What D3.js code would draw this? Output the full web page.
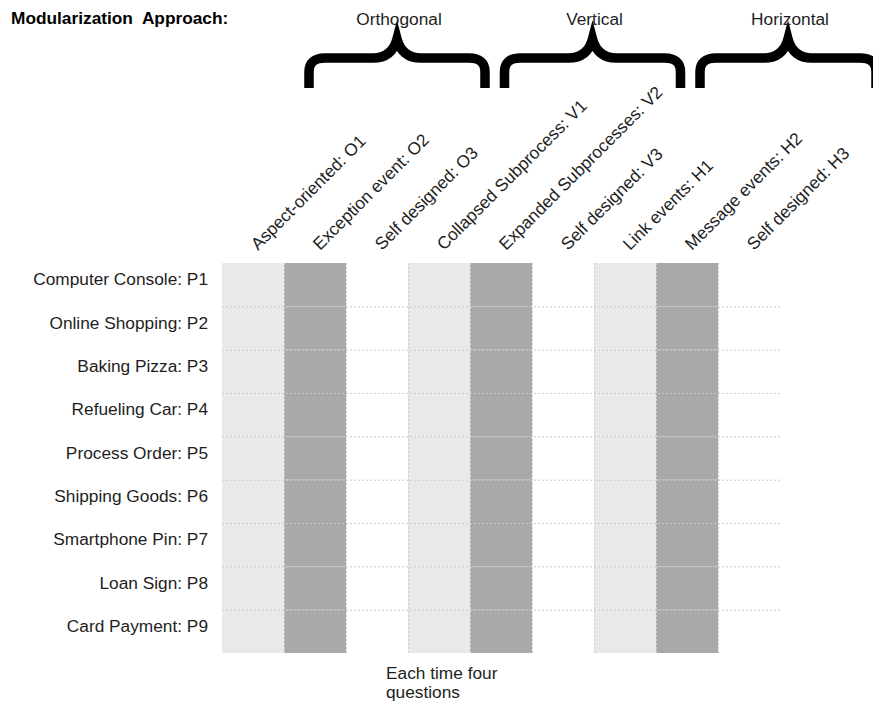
<!DOCTYPE html>
<html lang="en">

<head>
   <meta charset="UTF-8">
   <title>Modularization Approach</title>
   <script src="https://cdnjs.cloudflare.com/ajax/libs/d3/7.8.4/d3.min.js"></script>
   <style>
      body { margin: 0; background: #fff; }
      svg { display: block; font-family: "Liberation Sans", Arial, sans-serif; }
   </style>
</head>

<body>
   <script>
      // rows
      const processes = ["Computer Console: P1", "Online Shopping: P2", "Baking Pizza: P3", "Refueling Car: P4",
         "Process Order: P5", "Shipping Goods: P6", "Smartphone Pin: P7", "Loan Sign: P8", "Card Payment: P9"];
      // columns
      const approaches = ["Aspect-oriented: O1", "Exception event: O2", "Self designed: O3",
         "Collapsed Subprocess: V1", "Expanded Subprocesses: V2", "Self designed: V3",
         "Link events: H1", "Message events: H2", "Self designed: H3"];
      const groups = ["Orthogonal", "Vertical", "Horizontal"];
      // shade of each column: 1 = light, 2 = dark, 0 = empty
      const shade = [1, 2, 0, 1, 2, 0, 1, 2, 0];
      const noteLines = ["Each time four", "questions"];

      const w = 873;
      const h = 704;
      const fs = 17.3;
      const colors = { 0: "none", 1: "#e9e9e9", 2: "#a9a9a9" };
      const ink = "#1e1e1e";

      const svg = d3.select("body")
         .append("svg")
         .attr("width", w)
         .attr("height", h);

      const xScale = d3.scaleBand().domain(approaches).range([222, 780]);
      const yScale = d3.scaleBand().domain(processes).range([263, 653]);
      const braceScale = d3.scalePoint().domain(groups).range([397, 788]);

      // cells
      const cells = [];
      processes.forEach(p => approaches.forEach((a, i) => cells.push({ p: p, a: a, s: shade[i] })));

      svg.append("g")
         .selectAll("rect")
         .data(cells.filter(d => d.s > 0))
         .enter()
         .append("rect")
         .attr("x", d => xScale(d.a))
         .attr("y", d => yScale(d.p))
         .attr("width", xScale.bandwidth())
         .attr("height", yScale.bandwidth())
         .attr("fill", d => colors[d.s]);

      // dotted grid on the inner borders
      svg.append("g")
         .selectAll("line")
         .data(processes.slice(1))
         .enter()
         .append("line")
         .attr("x1", xScale.range()[0])
         .attr("x2", xScale.range()[1])
         .attr("y1", d => yScale(d) + 0.5)
         .attr("y2", d => yScale(d) + 0.5)
         .attr("stroke", "#c8c8c8")
         .attr("stroke-dasharray", "2,2");

      svg.append("g")
         .selectAll("line")
         .data(approaches.slice(1))
         .enter()
         .append("line")
         .attr("x1", d => xScale(d) + 0.5)
         .attr("x2", d => xScale(d) + 0.5)
         .attr("y1", yScale.range()[0])
         .attr("y2", yScale.range()[1])
         .attr("stroke", "#cfcfcf")
         .attr("stroke-dasharray", "2,2");

      // row labels
      svg.append("g")
         .selectAll("text")
         .data(processes)
         .enter()
         .append("text")
         .attr("x", xScale.range()[0] - 14)
         .attr("y", d => yScale(d) + yScale.bandwidth() / 2 - 4)
         .attr("text-anchor", "end")
         .attr("dominant-baseline", "middle")
         .attr("font-size", fs)
         .attr("fill", ink)
         .text(d => d);

      // column labels
      svg.append("g")
         .selectAll("text")
         .data(approaches)
         .enter()
         .append("text")
         .attr("transform", d => "translate(" + (xScale(d) + xScale.bandwidth() / 2 + 5) + ",251) rotate(-45)")
         .attr("font-size", fs)
         .attr("fill", ink)
         .text(d => d);

      // braces
      const half = 88;
      const brace = (c) => {
         const p = d3.path();
         p.moveTo(c - half, 88);
         p.lineTo(c - half, 72);
         p.quadraticCurveTo(c - half, 58, c - half + 16, 58);
         p.lineTo(c - 24, 58);
         p.quadraticCurveTo(c - 5, 58, c, 39);
         p.quadraticCurveTo(c + 5, 58, c + 24, 58);
         p.lineTo(c + half - 16, 58);
         p.quadraticCurveTo(c + half, 58, c + half, 72);
         p.lineTo(c + half, 88);
         return p.toString();
      };

      svg.append("g")
         .selectAll("path")
         .data(groups)
         .enter()
         .append("path")
         .attr("d", d => brace(braceScale(d)))
         .attr("fill", "none")
         .attr("stroke", "#000")
         .attr("stroke-width", 9.5);

      svg.append("g")
         .selectAll("text")
         .data(groups)
         .enter()
         .append("text")
         .attr("x", d => braceScale(d) + 2)
         .attr("y", 25)
         .attr("text-anchor", "middle")
         .attr("font-size", fs)
         .attr("fill", ink)
         .text(d => d);

      // title
      svg.append("text")
         .attr("x", 11)
         .attr("y", 24)
         .attr("font-size", fs)
         .attr("font-weight", "bold")
         .attr("fill", "#000")
         .style("white-space", "pre")
         .text("Modularization  Approach:");

      // note under the grid
      svg.append("g")
         .selectAll("text")
         .data(noteLines)
         .enter()
         .append("text")
         .attr("x", xScale(approaches[2]) + 40)
         .attr("y", (d, i) => 679 + i * 19)
         .attr("font-size", fs)
         .attr("fill", ink)
         .text(d => d);
   </script>
</body>

</html>
